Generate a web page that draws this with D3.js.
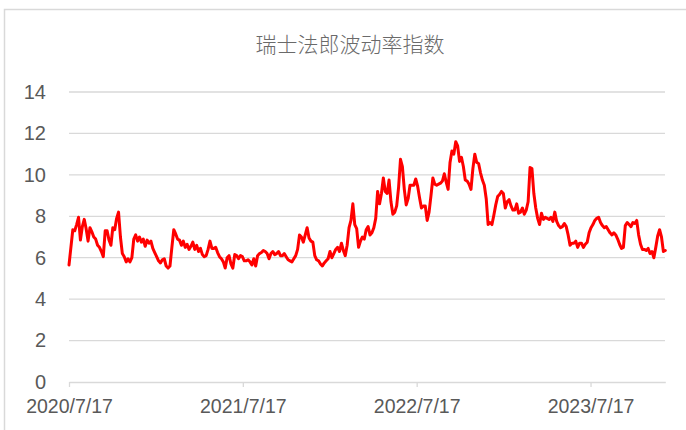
<!DOCTYPE html>
<html>
<head>
<meta charset="utf-8">
<script src="https://cdn.jsdelivr.net/npm/d3@7"></script>
<style>
  html, body { margin: 0; padding: 0; background: #fff; }
  svg { display: block; }
</style>
</head>
<body>
<svg id="chart" width="686" height="430"></svg>
<script>
// Swiss franc volatility index, sampled every 4 days from 2020/7/17
const chartTitle = "瑞士法郎波动率指数";
const seriesStart = "2020/7/17";
const stepDays = 4;
const xTickLabels = ["2020/7/17", "2021/7/17", "2022/7/17", "2023/7/17"];
const yTicks = [0, 2, 4, 6, 8, 10, 12, 14];

const volatility = [
  5.65, 6.5, 7.35, 7.3, 7.6, 7.95, 6.85, 7.5, 7.85, 7.4,
  6.8, 7.45, 7.25, 7.0, 6.9, 6.6, 6.5, 6.3, 6.05, 7.3,
  7.3, 6.85, 6.6, 7.45, 7.35, 7.9, 8.2, 7.0, 6.2, 6.05,
  5.8, 5.95, 5.8, 6.0, 6.9, 7.1, 6.8, 7.0, 6.75, 6.9,
  6.55, 6.85, 6.7, 6.8, 6.45, 6.25, 6.05, 5.85, 5.75, 5.9,
  5.95, 5.6, 5.5, 5.6, 6.5, 7.35, 7.15, 6.9, 6.85, 6.6,
  6.8, 6.5, 6.65, 6.4, 6.55, 6.75, 6.4, 6.6, 6.3, 6.45,
  6.15, 6.05, 6.1, 6.4, 6.8, 6.45, 6.45, 6.5, 6.25, 6.05,
  5.95, 5.8, 5.5, 6.0, 6.1, 5.7, 5.5, 6.15, 6.1, 5.95,
  6.1, 6.05, 5.85, 5.85, 5.9, 5.8, 5.65, 5.95, 5.6, 6.1,
  6.2, 6.25, 6.35, 6.3, 6.2, 5.95, 6.2, 6.3, 6.15, 6.2,
  6.3, 6.1, 6.1, 6.2, 6.05, 5.9, 5.85, 5.8, 5.95, 6.1,
  6.4, 7.1, 7.0, 6.75, 7.1, 7.45, 6.95, 6.8, 6.75, 6.1,
  5.9, 5.85, 5.7, 5.6, 5.75, 5.85, 5.95, 6.3, 6.0, 6.2,
  6.4, 6.5, 6.3, 6.7, 6.35, 6.1, 6.6, 7.45, 7.8, 8.6,
  7.6, 7.4, 6.5, 6.8, 7.0, 6.9, 7.35, 7.5, 7.1, 7.2,
  7.45, 7.9, 9.2, 8.6, 9.1, 9.85, 9.2, 9.1, 9.75, 8.7,
  8.1, 8.2, 8.5, 9.4, 10.75, 10.4, 9.3, 8.55, 8.85, 9.5,
  9.5, 9.5, 9.8, 9.45, 8.9, 8.4, 8.5, 8.5, 7.8, 8.2,
  9.0, 9.85, 9.55, 9.5, 9.55, 9.6, 9.7, 10.05, 9.65, 9.3,
  10.6, 11.15, 11.0, 11.6, 11.4, 10.65, 10.85, 10.4, 9.75, 9.7,
  9.55, 9.3, 10.3, 11.0, 10.6, 10.55, 10.1, 9.75, 9.5, 8.85,
  7.6, 7.7, 7.6, 8.05, 8.55, 8.95, 9.05, 9.2, 9.1, 8.4,
  8.7, 8.8, 8.5, 8.3, 8.3, 8.6, 8.15, 8.2, 8.4, 8.1,
  8.3, 8.7, 10.35, 10.3, 9.1, 8.4, 7.9, 7.6, 8.15, 7.85,
  7.95, 7.9, 7.85, 7.95, 7.75, 8.2, 7.75, 7.55, 7.45, 7.5,
  7.65, 7.5, 7.1, 6.6, 6.7, 6.7, 6.8, 6.5, 6.7, 6.7,
  6.5, 6.65, 6.75, 7.2, 7.45, 7.6, 7.8, 7.9, 7.95, 7.7,
  7.55, 7.45, 7.5, 7.35, 7.2, 7.1, 7.2, 7.1, 6.9, 6.65,
  6.45, 6.5, 7.55, 7.7, 7.6, 7.5, 7.7, 7.65, 7.8, 7.1,
  6.65, 6.4, 6.4, 6.35, 6.45, 6.2, 6.3, 6.0, 6.5, 7.05,
  7.35, 7.0, 6.3, 6.35
];

const parseDate = d3.timeParse("%Y/%m/%d");
const start = parseDate(seriesStart);
const dates = volatility.map((_, i) => d3.timeDay.offset(start, i * stepDays));
const data = dates.map((d, i) => ({ date: d, value: volatility[i] }));

const svg = d3.select("#chart");
const font = "'Liberation Sans', Arial, sans-serif";
const labelColor = "#595959";
const gridColor = "#d9d9d9";

// chart frame (top and left edges fall inside the page)
svg.append("rect")
  .attr("x", 4.5).attr("y", 9.5)
  .attr("width", 720).attr("height", 460)
  .attr("fill", "#fff")
  .attr("stroke", gridColor)
  .attr("stroke-width", 1.5);

const plot = { left: 69, right: 665.3, top: 92, bottom: 382 };

const x = d3.scaleTime()
  .domain([start, dates[dates.length - 1]])
  .range([plot.left, plot.right]);

const y = d3.scaleLinear()
  .domain([0, 14])
  .range([plot.bottom, plot.top]);

// title
svg.append("text")
  .attr("x", 350).attr("y", 52)
  .attr("text-anchor", "middle")
  .attr("font-family", "'Noto Sans CJK SC', sans-serif")
  .attr("font-weight", 300)
  .attr("font-size", 21)
  .attr("fill", "#6a6a6a")
  .text(chartTitle);

// horizontal gridlines
svg.append("g")
  .selectAll("line")
  .data(yTicks.filter(t => t > 0))
  .join("line")
  .attr("x1", plot.left).attr("x2", 665)
  .attr("y1", d => y(d)).attr("y2", d => y(d))
  .attr("stroke", gridColor)
  .attr("stroke-width", 1.3);

// y axis labels
const yAxis = svg.append("g")
  .attr("transform", `translate(${plot.left},0)`)
  .call(d3.axisLeft(y).tickValues(yTicks).tickSize(0).tickPadding(23));
yAxis.select(".domain").remove();
yAxis.selectAll("text")
  .attr("font-family", font)
  .attr("font-size", 20)
  .attr("fill", labelColor);

// x axis
const xTickDates = xTickLabels.map(parseDate);
const xAxis = svg.append("g")
  .attr("transform", `translate(0,${plot.bottom})`)
  .call(d3.axisBottom(x)
    .tickValues(xTickDates)
    .tickFormat((d, i) => xTickLabels[i])
    .tickSize(5)
    .tickSizeOuter(0)
    .tickPadding(12));
xAxis.select(".domain")
  .attr("stroke", gridColor)
  .attr("stroke-width", 1.3);
xAxis.selectAll(".tick line")
  .attr("stroke", gridColor)
  .attr("stroke-width", 1.3);
xAxis.selectAll("text")
  .attr("font-family", font)
  .attr("font-size", 19.5)
  .attr("fill", labelColor);

// volatility line
const line = d3.line()
  .x(d => x(d.date))
  .y(d => y(d.value));

svg.append("path")
  .datum(data)
  .attr("fill", "none")
  .attr("stroke", "#ff0000")
  .attr("stroke-width", 3)
  .attr("stroke-linejoin", "round")
  .attr("stroke-linecap", "round")
  .attr("d", line);
</script>
</body>
</html>
